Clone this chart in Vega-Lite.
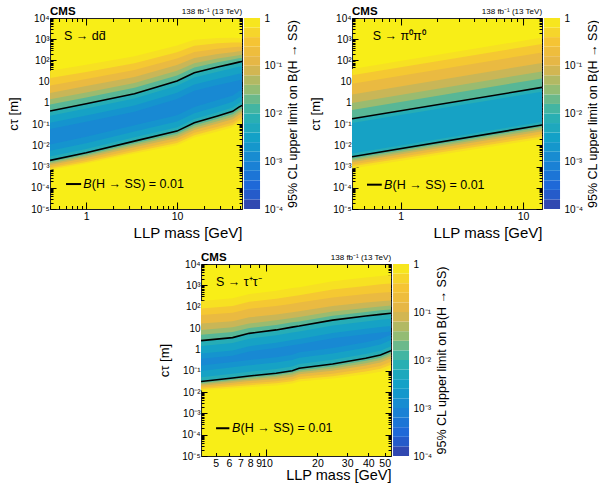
{
"$schema": "https://vega.github.io/schema/vega-lite/v6.json",
"padding": {"left": 7, "top": 5, "right": 0, "bottom": 0},
"background": "white",
"config": {
  "font": "Liberation Sans",
  "axis": {"labelFont": "Liberation Sans", "titleFont": "Liberation Sans", "titleFontWeight": "normal", "labelColor": "black", "titleColor": "black", "tickColor": "black", "domain": false, "grid": false, "tickWidth": 1, "zindex": 1}
},
"datasets": {
"dd": [
{"v":0.7,"m":0.4,"lo":0.000692,"hi":33.1},{"v":0.7,"m":1,"lo":0.00138,"hi":63.1},{"v":0.7,"m":3.4,"lo":0.00407,"hi":158},{"v":0.7,"m":10,"lo":0.0102,"hi":501},{"v":0.7,"m":15.5,"lo":0.0234,"hi":955},{"v":0.7,"m":28,"lo":0.0447,"hi":1148},{"v":0.7,"m":41,"lo":0.0708,"hi":1175},{"v":0.7,"m":48,"lo":0.11,"hi":1148},{"v":0.7,"m":52,"lo":0.129,"hi":1122},
{"v":0.35,"m":0.4,"lo":0.000813,"hi":14.8},{"v":0.35,"m":1,"lo":0.00166,"hi":28.8},{"v":0.35,"m":3.4,"lo":0.00501,"hi":74.1},{"v":0.35,"m":10,"lo":0.0129,"hi":245},{"v":0.35,"m":15.5,"lo":0.0302,"hi":490},{"v":0.35,"m":28,"lo":0.0589,"hi":646},{"v":0.35,"m":41,"lo":0.0912,"hi":692},{"v":0.35,"m":48,"lo":0.145,"hi":708},{"v":0.35,"m":52,"lo":0.17,"hi":708},
{"v":0.16,"m":0.4,"lo":0.000955,"hi":6.61},{"v":0.16,"m":1,"lo":0.002,"hi":13.2},{"v":0.16,"m":3.4,"lo":0.00617,"hi":35.5},{"v":0.16,"m":10,"lo":0.0166,"hi":123},{"v":0.16,"m":15.5,"lo":0.0389,"hi":251},{"v":0.16,"m":28,"lo":0.0759,"hi":355},{"v":0.16,"m":41,"lo":0.12,"hi":417},{"v":0.16,"m":48,"lo":0.191,"hi":437},{"v":0.16,"m":52,"lo":0.224,"hi":447},
{"v":0.07,"m":0.4,"lo":0.001175,"hi":2.95},{"v":0.07,"m":1,"lo":0.00251,"hi":6.17},{"v":0.07,"m":3.4,"lo":0.00813,"hi":16.6},{"v":0.07,"m":10,"lo":0.0224,"hi":60.3},{"v":0.07,"m":15.5,"lo":0.0525,"hi":132},{"v":0.07,"m":28,"lo":0.107,"hi":200},{"v":0.07,"m":41,"lo":0.17,"hi":245},{"v":0.07,"m":48,"lo":0.269,"hi":269},{"v":0.07,"m":52,"lo":0.324,"hi":275},
{"v":0.035,"m":0.4,"lo":0.00138,"hi":1.48},{"v":0.035,"m":1,"lo":0.00302,"hi":3.09},{"v":0.035,"m":3.4,"lo":0.01,"hi":8.71},{"v":0.035,"m":10,"lo":0.0282,"hi":32.4},{"v":0.035,"m":15.5,"lo":0.0676,"hi":74.1},{"v":0.035,"m":28,"lo":0.138,"hi":123},{"v":0.035,"m":41,"lo":0.224,"hi":158},{"v":0.035,"m":48,"lo":0.355,"hi":178},{"v":0.035,"m":52,"lo":0.417,"hi":186},
{"v":0.016,"m":0.4,"lo":0.00162,"hi":0.832},{"v":0.016,"m":1,"lo":0.00363,"hi":1.78},{"v":0.016,"m":3.4,"lo":0.0123,"hi":5.13},{"v":0.016,"m":10,"lo":0.0355,"hi":19.5},{"v":0.016,"m":15.5,"lo":0.0871,"hi":46.8},{"v":0.016,"m":28,"lo":0.178,"hi":81.3},{"v":0.016,"m":41,"lo":0.295,"hi":110},{"v":0.016,"m":48,"lo":0.457,"hi":126},{"v":0.016,"m":52,"lo":0.55,"hi":132},
{"v":0.007,"m":0.4,"lo":0.00195,"hi":0.417},{"v":0.007,"m":1,"lo":0.00447,"hi":0.912},{"v":0.007,"m":3.4,"lo":0.0158,"hi":2.69},{"v":0.007,"m":10,"lo":0.0468,"hi":10.7},{"v":0.007,"m":15.5,"lo":0.115,"hi":26.3},{"v":0.007,"m":28,"lo":0.24,"hi":49.0},{"v":0.007,"m":41,"lo":0.398,"hi":70.8},{"v":0.007,"m":48,"lo":0.631,"hi":83.2},{"v":0.007,"m":52,"lo":0.759,"hi":89.1},
{"v":0.0035,"m":0.4,"lo":0.00295,"hi":0.251},{"v":0.0035,"m":1,"lo":0.00676,"hi":0.55},{"v":0.0035,"m":3.4,"lo":0.024,"hi":1.62},{"v":0.0035,"m":10,"lo":0.0708,"hi":6.46},{"v":0.0035,"m":15.5,"lo":0.174,"hi":15.8},{"v":0.0035,"m":28,"lo":0.363,"hi":29.5},{"v":0.0035,"m":41,"lo":0.603,"hi":42.7},{"v":0.0035,"m":48,"lo":0.955,"hi":50.1},{"v":0.0035,"m":52,"lo":1.15,"hi":53.7},
{"v":0.0018,"m":0.4,"lo":0.0055,"hi":0.1175},{"v":0.0018,"m":1,"lo":0.0126,"hi":0.257},{"v":0.0018,"m":3.4,"lo":0.0447,"hi":0.759},{"v":0.0018,"m":10,"lo":0.132,"hi":3.02},{"v":0.0018,"m":15.5,"lo":0.324,"hi":7.41},{"v":0.0018,"m":28,"lo":0.676,"hi":13.8},{"v":0.0018,"m":41,"lo":1.12,"hi":20.0},{"v":0.0018,"m":48,"lo":1.78,"hi":23.4},{"v":0.0018,"m":52,"lo":2.14,"hi":25.1},
{"v":0.0011,"m":0.4,"lo":0.011,"hi":0.0589},{"v":0.0011,"m":1,"lo":0.0251,"hi":0.129},{"v":0.0011,"m":3.4,"lo":0.0891,"hi":0.38},{"v":0.0011,"m":10,"lo":0.263,"hi":1.51},{"v":0.0011,"m":15.5,"lo":0.646,"hi":3.72},{"v":0.0011,"m":28,"lo":1.35,"hi":6.92},{"v":0.0011,"m":41,"lo":2.24,"hi":10.0},{"v":0.0011,"m":48,"lo":3.55,"hi":11.7},{"v":0.0011,"m":52,"lo":4.27,"hi":12.6}
],
"pp": [
{"v":0.7,"m":0.4,"lo":0.000813,"hi":39.8},{"v":0.7,"m":14.3,"lo":0.0204,"hi":1202},
{"v":0.35,"m":0.4,"lo":0.00102,"hi":20.0},{"v":0.35,"m":14.3,"lo":0.0263,"hi":603},
{"v":0.16,"m":0.4,"lo":0.00126,"hi":7.94},{"v":0.16,"m":14.3,"lo":0.0339,"hi":240},
{"v":0.07,"m":0.4,"lo":0.00158,"hi":2.51},{"v":0.07,"m":14.3,"lo":0.0457,"hi":75.9},
{"v":0.035,"m":0.4,"lo":0.00195,"hi":1.0},{"v":0.035,"m":14.3,"lo":0.0575,"hi":30.2},
{"v":0.016,"m":0.4,"lo":0.00234,"hi":0.468},{"v":0.016,"m":14.3,"lo":0.0724,"hi":14.1},
{"v":0.007,"m":0.4,"lo":0.00288,"hi":0.178},{"v":0.007,"m":14.3,"lo":0.0912,"hi":5.37},
{"v":0.0035,"m":0.4,"lo":0.00407,"hi":0.112},{"v":0.0035,"m":14.3,"lo":0.129,"hi":3.39}
],
"tt": [
{"v":0.7,"m":4.1,"lo":0.01175,"hi":182},{"v":0.7,"m":6.3,"lo":0.0151,"hi":245},{"v":0.7,"m":7.9,"lo":0.017,"hi":389},{"v":0.7,"m":11.4,"lo":0.0204,"hi":550},{"v":0.7,"m":14.2,"lo":0.0251,"hi":741},{"v":0.7,"m":15.6,"lo":0.0309,"hi":813},{"v":0.7,"m":24.6,"lo":0.0427,"hi":1549},{"v":0.7,"m":38.6,"lo":0.0676,"hi":2344},{"v":0.7,"m":47.2,"lo":0.0891,"hi":2754},{"v":0.7,"m":54.5,"lo":0.138,"hi":3090},
{"v":0.35,"m":4.1,"lo":0.0138,"hi":81.3},{"v":0.35,"m":6.3,"lo":0.0182,"hi":107},{"v":0.35,"m":7.9,"lo":0.0209,"hi":170},{"v":0.35,"m":11.4,"lo":0.0257,"hi":234},{"v":0.35,"m":14.2,"lo":0.0316,"hi":309},{"v":0.35,"m":15.6,"lo":0.0398,"hi":347},{"v":0.35,"m":24.6,"lo":0.055,"hi":631},{"v":0.35,"m":38.6,"lo":0.0912,"hi":933},{"v":0.35,"m":47.2,"lo":0.123,"hi":1122},{"v":0.35,"m":54.5,"lo":0.191,"hi":1230},
{"v":0.16,"m":4.1,"lo":0.0162,"hi":40.7},{"v":0.16,"m":6.3,"lo":0.0219,"hi":52.5},{"v":0.16,"m":7.9,"lo":0.0257,"hi":79.4},{"v":0.16,"m":11.4,"lo":0.0316,"hi":107},{"v":0.16,"m":14.2,"lo":0.0398,"hi":138},{"v":0.16,"m":15.6,"lo":0.0513,"hi":155},{"v":0.16,"m":24.6,"lo":0.0724,"hi":269},{"v":0.16,"m":38.6,"lo":0.123,"hi":389},{"v":0.16,"m":47.2,"lo":0.166,"hi":447},{"v":0.16,"m":54.5,"lo":0.263,"hi":490},
{"v":0.07,"m":4.1,"lo":0.0195,"hi":16.2},{"v":0.07,"m":6.3,"lo":0.0269,"hi":20.9},{"v":0.07,"m":7.9,"lo":0.0324,"hi":31.6},{"v":0.07,"m":11.4,"lo":0.0417,"hi":42.7},{"v":0.07,"m":14.2,"lo":0.0525,"hi":55.0},{"v":0.07,"m":15.6,"lo":0.0676,"hi":61.7},{"v":0.07,"m":24.6,"lo":0.1,"hi":107},{"v":0.07,"m":38.6,"lo":0.174,"hi":155},{"v":0.07,"m":47.2,"lo":0.24,"hi":178},{"v":0.07,"m":54.5,"lo":0.38,"hi":195},
{"v":0.035,"m":4.1,"lo":0.0229,"hi":8.13},{"v":0.035,"m":6.3,"lo":0.0324,"hi":10.7},{"v":0.035,"m":7.9,"lo":0.0389,"hi":16.2},{"v":0.035,"m":11.4,"lo":0.0513,"hi":22.9},{"v":0.035,"m":14.2,"lo":0.0661,"hi":29.5},{"v":0.035,"m":15.6,"lo":0.0832,"hi":33.1},{"v":0.035,"m":24.6,"lo":0.126,"hi":58.9},{"v":0.035,"m":38.6,"lo":0.224,"hi":87.1},{"v":0.035,"m":47.2,"lo":0.316,"hi":102},{"v":0.035,"m":54.5,"lo":0.501,"hi":112},
{"v":0.016,"m":4.1,"lo":0.0263,"hi":4.79},{"v":0.016,"m":6.3,"lo":0.038,"hi":6.46},{"v":0.016,"m":7.9,"lo":0.0468,"hi":10.0},{"v":0.016,"m":11.4,"lo":0.0617,"hi":13.8},{"v":0.016,"m":14.2,"lo":0.0813,"hi":18.6},{"v":0.016,"m":15.6,"lo":0.102,"hi":20.4},{"v":0.016,"m":24.6,"lo":0.158,"hi":38.0},{"v":0.016,"m":38.6,"lo":0.295,"hi":56.2},{"v":0.016,"m":47.2,"lo":0.407,"hi":67.6},{"v":0.016,"m":54.5,"lo":0.661,"hi":74.1},
{"v":0.007,"m":4.1,"lo":0.0309,"hi":2.57},{"v":0.007,"m":6.3,"lo":0.0457,"hi":3.55},{"v":0.007,"m":7.9,"lo":0.0562,"hi":5.62},{"v":0.007,"m":11.4,"lo":0.0759,"hi":8.13},{"v":0.007,"m":14.2,"lo":0.1,"hi":11.0},{"v":0.007,"m":15.6,"lo":0.129,"hi":12.3},{"v":0.007,"m":24.6,"lo":0.204,"hi":23.4},{"v":0.007,"m":38.6,"lo":0.38,"hi":36.3},{"v":0.007,"m":47.2,"lo":0.537,"hi":43.7},{"v":0.007,"m":54.5,"lo":0.871,"hi":49.0},
{"v":0.0035,"m":4.1,"lo":0.049,"hi":1.445},{"v":0.0035,"m":6.3,"lo":0.0724,"hi":2.0},{"v":0.0035,"m":7.9,"lo":0.0891,"hi":3.16},{"v":0.0035,"m":11.4,"lo":0.12,"hi":4.57},{"v":0.0035,"m":14.2,"lo":0.158,"hi":6.17},{"v":0.0035,"m":15.6,"lo":0.204,"hi":6.92},{"v":0.0035,"m":24.6,"lo":0.324,"hi":13.2},{"v":0.0035,"m":38.6,"lo":0.603,"hi":20.4},{"v":0.0035,"m":47.2,"lo":0.851,"hi":24.5},{"v":0.0035,"m":54.5,"lo":1.38,"hi":27.5},
{"v":0.0018,"m":4.1,"lo":0.0977,"hi":0.646},{"v":0.0018,"m":6.3,"lo":0.145,"hi":0.891},{"v":0.0018,"m":7.9,"lo":0.178,"hi":1.41},{"v":0.0018,"m":11.4,"lo":0.24,"hi":2.04},{"v":0.0018,"m":14.2,"lo":0.316,"hi":2.75},{"v":0.0018,"m":15.6,"lo":0.407,"hi":3.09},{"v":0.0018,"m":24.6,"lo":0.646,"hi":5.89},{"v":0.0018,"m":38.6,"lo":1.2,"hi":9.12},{"v":0.0018,"m":47.2,"lo":1.7,"hi":11.0},{"v":0.0018,"m":54.5,"lo":2.75,"hi":12.3},
{"v":0.0011,"m":4.1,"lo":0.174,"hi":0.363},{"v":0.0011,"m":6.3,"lo":0.257,"hi":0.501},{"v":0.0011,"m":7.9,"lo":0.316,"hi":0.794},{"v":0.0011,"m":11.4,"lo":0.427,"hi":1.15},{"v":0.0011,"m":14.2,"lo":0.562,"hi":1.55},{"v":0.0011,"m":15.6,"lo":0.724,"hi":1.74},{"v":0.0011,"m":24.6,"lo":1.15,"hi":3.31},{"v":0.0011,"m":38.6,"lo":2.14,"hi":5.13},{"v":0.0011,"m":47.2,"lo":3.02,"hi":6.17},{"v":0.0011,"m":54.5,"lo":4.9,"hi":6.92}
],
"cb": [
{"lo":0.0001,"hi":0.0001585,"v":0.0001259},{"lo":0.0001585,"hi":0.0002512,"v":0.0001995},{"lo":0.0002512,"hi":0.0003981,"v":0.0003162},{"lo":0.0003981,"hi":0.000631,"v":0.0005012},{"lo":0.000631,"hi":0.001,"v":0.0007943},
{"lo":0.001,"hi":0.001585,"v":0.001259},{"lo":0.001585,"hi":0.002512,"v":0.001995},{"lo":0.002512,"hi":0.003981,"v":0.003162},{"lo":0.003981,"hi":0.00631,"v":0.005012},{"lo":0.00631,"hi":0.01,"v":0.007943},
{"lo":0.01,"hi":0.01585,"v":0.01259},{"lo":0.01585,"hi":0.02512,"v":0.01995},{"lo":0.02512,"hi":0.03981,"v":0.03162},{"lo":0.03981,"hi":0.0631,"v":0.05012},{"lo":0.0631,"hi":0.1,"v":0.07943},
{"lo":0.1,"hi":0.1585,"v":0.1259},{"lo":0.1585,"hi":0.2512,"v":0.1995},{"lo":0.2512,"hi":0.3981,"v":0.3162},{"lo":0.3981,"hi":0.631,"v":0.5012},{"lo":0.631,"hi":1,"v":0.7943}
]
},
"vconcat": [
{"hconcat": [
 {"hconcat": [
  {"width": 192, "height": 191,
   "view": {"fill": "#f8ee17", "stroke": "#222222", "strokeWidth": 1},
   "data": {"name": "dd"},
   "layer": [
    {"mark": {"type": "area", "clip": true},
     "encoding": {
      "x": {"field": "m", "type": "quantitative", "scale": {"type": "log", "domain": [0.4, 52], "nice": false},
            "axis": {"orient": "bottom", "title": "LLP mass [GeV]", "values": [0.4,0.5,0.6,0.7,0.8,0.9,1,2,3,4,5,6,7,8,9,10,20,30,40,50], "labelOverlap": false,
                     "labelExpr": "abs(log(datum.value)/LN10-round(log(datum.value)/LN10))<0.001 ? format(datum.value,'d') : ''",
                     "tickSize": {"condition": {"test": "abs(log(datum.value)/LN10-round(log(datum.value)/LN10))<0.001", "value": -7}, "value": -3.5},
                     "labelPadding": 9, "labelFontSize": 10.5, "titleFontSize": 15, "titlePadding": 0, "titleAnchor": "end"}},
      "y": {"field": "lo", "type": "quantitative", "stack": null, "scale": {"type": "log", "domain": [0.00001, 10000], "nice": false},
            "axis": {"orient": "left", "title": "cτ [m]", "tickCount": 100, "labelOverlap": false,
                     "labelExpr": "abs(log(datum.value)/LN10-round(log(datum.value)/LN10))<0.001 ? ['10⁻⁵','10⁻⁴','10⁻³','10⁻²','10⁻¹','1','10','10²','10³','10⁴'][round(log(datum.value)/LN10)+5] : ''",
                     "tickSize": {"condition": {"test": "abs(log(datum.value)/LN10-round(log(datum.value)/LN10))<0.001", "value": -6}, "value": -3},
                     "labelPadding": 7, "labelFontSize": 10, "titleFontSize": 13, "titlePadding": 10}},
      "y2": {"field": "hi"},
      "color": {"field": "v", "type": "quantitative", "legend": null,
                "scale": {"type": "log", "interpolate": "rgb", "domain": [0.0001,0.00015,0.0003,0.001,0.003,0.01,0.03,0.1,0.3,0.6,1], "range": ["#3b3a9e","#2a52c0","#1f68d8","#1987d4","#12a0c8","#2fb3ae","#8fbc76","#e2b44a","#f5c235","#f6dc27","#f8ee17"]}}
     }},
    {"transform": [{"filter": "datum.v == 0.007"}],
     "mark": {"type": "line", "color": "black", "strokeWidth": 1.6, "clip": true},
     "encoding": {
      "x": {"field": "m", "type": "quantitative", "axis": {"orient": "top", "labels": false, "title": null, "values": [0.4,0.5,0.6,0.7,0.8,0.9,1,2,3,4,5,6,7,8,9,10,20,30,40,50], "tickSize": {"condition": {"test": "abs(log(datum.value)/LN10-round(log(datum.value)/LN10))<0.001", "value": -7}, "value": -3.5}}},
      "y": {"field": "hi", "type": "quantitative", "axis": {"orient": "right", "labels": false, "title": null, "tickCount": 100, "tickSize": {"condition": {"test": "abs(log(datum.value)/LN10-round(log(datum.value)/LN10))<0.001", "value": -6}, "value": -3}}}
     }},
    {"transform": [{"filter": "datum.v == 0.007"}],
     "mark": {"type": "line", "color": "black", "strokeWidth": 1.6, "clip": true},
     "encoding": {
      "x": {"field": "m", "type": "quantitative", "axis": null},
      "y": {"field": "lo", "type": "quantitative", "axis": null}
     }},
    {"data": {"values": [{"m": 0.57, "c": 1413, "t": "S → dd̄"}]},
     "mark": {"type": "text", "align": "left", "baseline": "middle", "fontSize": 12.5},
     "encoding": {"x": {"field": "m", "type": "quantitative", "axis": null}, "y": {"field": "c", "type": "quantitative", "axis": null}, "text": {"field": "t"}}},
    {"data": {"values": [{"m": 0.4, "c": 10000, "t": "CMS"}]},
     "mark": {"type": "text", "align": "left", "baseline": "bottom", "dy": -1, "fontSize": 11.5, "fontWeight": "bold"},
     "encoding": {"x": {"field": "m", "type": "quantitative", "axis": null}, "y": {"field": "c", "type": "quantitative", "axis": null}, "text": {"field": "t"}}},
    {"data": {"values": [{"m": 52, "c": 10000, "t": "138 fb⁻¹ (13 TeV)"}]},
     "mark": {"type": "text", "align": "right", "baseline": "bottom", "dy": -2, "fontSize": 8},
     "encoding": {"x": {"field": "m", "type": "quantitative", "axis": null}, "y": {"field": "c", "type": "quantitative", "axis": null}, "text": {"field": "t"}}},
    {"data": {"values": [{"m": 0.6, "m2": 0.88, "c": 0.00015}]},
     "mark": {"type": "rule", "color": "black", "strokeWidth": 2},
     "encoding": {"x": {"field": "m", "type": "quantitative", "axis": null}, "x2": {"field": "m2"}, "y": {"field": "c", "type": "quantitative", "axis": null}}},
    {"data": {"values": [{"m": 0.93, "c": 0.00015, "t": "B"}]},
     "mark": {"type": "text", "align": "left", "baseline": "middle", "fontSize": 12.5, "fontStyle": "italic"},
     "encoding": {"x": {"field": "m", "type": "quantitative", "axis": null}, "y": {"field": "c", "type": "quantitative", "axis": null}, "text": {"field": "t"}}},
    {"data": {"values": [{"m": 0.93, "c": 0.00015, "t": "(H → SS) = 0.01"}]},
     "mark": {"type": "text", "align": "left", "baseline": "middle", "fontSize": 12.5, "dx": 8.5},
     "encoding": {"x": {"field": "m", "type": "quantitative", "axis": null}, "y": {"field": "c", "type": "quantitative", "axis": null}, "text": {"field": "t"}}}
   ],
   "resolve": {"axis": {"x": "independent", "y": "independent"}}
  },
  {"width": 16, "height": 191, "view": {"stroke": null},
   "data": {"name": "cb"},
   "mark": {"type": "rect"},
   "encoding": {
    "y": {"field": "lo", "type": "quantitative", "scale": {"type": "log", "domain": [0.0001, 1], "nice": false},
          "axis": {"orient": "right", "values": [0.0001, 0.001, 0.01, 0.1, 1], "labelExpr": "['10⁻⁴','10⁻³','10⁻²','10⁻¹','1'][round(log(datum.value)/LN10)+4]", "ticks": false, "labelPadding": 4, "labelFontSize": 10, "labelOverlap": false,
                   "title": "95% CL upper limit on B(H → SS)", "titleAngle": 270, "titleBaseline": "top", "titleFontSize": 12.5, "titlePadding": 4}},
    "y2": {"field": "hi"},
    "color": {"field": "v", "type": "quantitative", "legend": null,
              "scale": {"type": "log", "interpolate": "rgb", "domain": [0.0001,0.00015,0.0003,0.001,0.003,0.01,0.03,0.1,0.3,0.6,1], "range": ["#3b3a9e","#2a52c0","#1f68d8","#1987d4","#12a0c8","#2fb3ae","#8fbc76","#e2b44a","#f5c235","#f6dc27","#f8ee17"]}}
   }}
 ], "spacing": 1},
 {"hconcat": [
  {"width": 190, "height": 191,
   "view": {"fill": "#f8ee17", "stroke": "#222222", "strokeWidth": 1},
   "data": {"name": "pp"},
   "layer": [
    {"mark": {"type": "area", "clip": true},
     "encoding": {
      "x": {"field": "m", "type": "quantitative", "scale": {"type": "log", "domain": [0.4, 14.3], "nice": false},
            "axis": {"orient": "bottom", "title": "LLP mass [GeV]", "values": [0.4,0.5,0.6,0.7,0.8,0.9,1,2,3,4,5,6,7,8,9,10], "labelOverlap": false,
                     "labelExpr": "abs(log(datum.value)/LN10-round(log(datum.value)/LN10))<0.001 ? format(datum.value,'d') : ''",
                     "tickSize": {"condition": {"test": "abs(log(datum.value)/LN10-round(log(datum.value)/LN10))<0.001", "value": -7}, "value": -3.5},
                     "labelPadding": 9, "labelFontSize": 10.5, "titleFontSize": 15, "titlePadding": 0, "titleAnchor": "end"}},
      "y": {"field": "lo", "type": "quantitative", "stack": null, "scale": {"type": "log", "domain": [0.00001, 10000], "nice": false},
            "axis": {"orient": "left", "title": "cτ [m]", "tickCount": 100, "labelOverlap": false,
                     "labelExpr": "abs(log(datum.value)/LN10-round(log(datum.value)/LN10))<0.001 ? ['10⁻⁵','10⁻⁴','10⁻³','10⁻²','10⁻¹','1','10','10²','10³','10⁴'][round(log(datum.value)/LN10)+5] : ''",
                     "tickSize": {"condition": {"test": "abs(log(datum.value)/LN10-round(log(datum.value)/LN10))<0.001", "value": -6}, "value": -3},
                     "labelPadding": 7, "labelFontSize": 10, "titleFontSize": 13, "titlePadding": 10}},
      "y2": {"field": "hi"},
      "color": {"field": "v", "type": "quantitative", "legend": null,
                "scale": {"type": "log", "interpolate": "rgb", "domain": [0.0001,0.00015,0.0003,0.001,0.003,0.01,0.03,0.1,0.3,0.6,1], "range": ["#3b3a9e","#2a52c0","#1f68d8","#1987d4","#12a0c8","#2fb3ae","#8fbc76","#e2b44a","#f5c235","#f6dc27","#f8ee17"]}}
     }},
    {"transform": [{"filter": "datum.v == 0.007"}],
     "mark": {"type": "line", "color": "black", "strokeWidth": 1.6, "clip": true},
     "encoding": {
      "x": {"field": "m", "type": "quantitative", "axis": {"orient": "top", "labels": false, "title": null, "values": [0.4,0.5,0.6,0.7,0.8,0.9,1,2,3,4,5,6,7,8,9,10], "tickSize": {"condition": {"test": "abs(log(datum.value)/LN10-round(log(datum.value)/LN10))<0.001", "value": -7}, "value": -3.5}}},
      "y": {"field": "hi", "type": "quantitative", "axis": {"orient": "right", "labels": false, "title": null, "tickCount": 100, "tickSize": {"condition": {"test": "abs(log(datum.value)/LN10-round(log(datum.value)/LN10))<0.001", "value": -6}, "value": -3}}}
     }},
    {"transform": [{"filter": "datum.v == 0.007"}],
     "mark": {"type": "line", "color": "black", "strokeWidth": 1.6, "clip": true},
     "encoding": {
      "x": {"field": "m", "type": "quantitative", "axis": null},
      "y": {"field": "lo", "type": "quantitative", "axis": null}
     }},
    {"data": {"values": [{"m": 0.59, "c": 1413, "t": "S → π⁰π⁰"}]},
     "mark": {"type": "text", "align": "left", "baseline": "middle", "fontSize": 12.5},
     "encoding": {"x": {"field": "m", "type": "quantitative", "axis": null}, "y": {"field": "c", "type": "quantitative", "axis": null}, "text": {"field": "t"}}},
    {"data": {"values": [{"m": 0.4, "c": 10000, "t": "CMS"}]},
     "mark": {"type": "text", "align": "left", "baseline": "bottom", "dy": -1, "fontSize": 11.5, "fontWeight": "bold"},
     "encoding": {"x": {"field": "m", "type": "quantitative", "axis": null}, "y": {"field": "c", "type": "quantitative", "axis": null}, "text": {"field": "t"}}},
    {"data": {"values": [{"m": 14.3, "c": 10000, "t": "138 fb⁻¹ (13 TeV)"}]},
     "mark": {"type": "text", "align": "right", "baseline": "bottom", "dy": -2, "fontSize": 8},
     "encoding": {"x": {"field": "m", "type": "quantitative", "axis": null}, "y": {"field": "c", "type": "quantitative", "axis": null}, "text": {"field": "t"}}},
    {"data": {"values": [{"m": 0.53, "m2": 0.70, "c": 0.00014}]},
     "mark": {"type": "rule", "color": "black", "strokeWidth": 2},
     "encoding": {"x": {"field": "m", "type": "quantitative", "axis": null}, "x2": {"field": "m2"}, "y": {"field": "c", "type": "quantitative", "axis": null}}},
    {"data": {"values": [{"m": 0.73, "c": 0.00014, "t": "B"}]},
     "mark": {"type": "text", "align": "left", "baseline": "middle", "fontSize": 12.5, "fontStyle": "italic"},
     "encoding": {"x": {"field": "m", "type": "quantitative", "axis": null}, "y": {"field": "c", "type": "quantitative", "axis": null}, "text": {"field": "t"}}},
    {"data": {"values": [{"m": 0.73, "c": 0.00014, "t": "(H → SS) = 0.01"}]},
     "mark": {"type": "text", "align": "left", "baseline": "middle", "fontSize": 12.5, "dx": 8.5},
     "encoding": {"x": {"field": "m", "type": "quantitative", "axis": null}, "y": {"field": "c", "type": "quantitative", "axis": null}, "text": {"field": "t"}}}
   ],
   "resolve": {"axis": {"x": "independent", "y": "independent"}}
  },
  {"width": 16, "height": 191, "view": {"stroke": null},
   "data": {"name": "cb"},
   "mark": {"type": "rect"},
   "encoding": {
    "y": {"field": "lo", "type": "quantitative", "scale": {"type": "log", "domain": [0.0001, 1], "nice": false},
          "axis": {"orient": "right", "values": [0.0001, 0.001, 0.01, 0.1, 1], "labelExpr": "['10⁻⁴','10⁻³','10⁻²','10⁻¹','1'][round(log(datum.value)/LN10)+4]", "ticks": false, "labelPadding": 4, "labelFontSize": 10, "labelOverlap": false,
                   "title": "95% CL upper limit on B(H → SS)", "titleAngle": 270, "titleBaseline": "top", "titleFontSize": 12.5, "titlePadding": 4}},
    "y2": {"field": "hi"},
    "color": {"field": "v", "type": "quantitative", "legend": null,
              "scale": {"type": "log", "interpolate": "rgb", "domain": [0.0001,0.00015,0.0003,0.001,0.003,0.01,0.03,0.1,0.3,0.6,1], "range": ["#3b3a9e","#2a52c0","#1f68d8","#1987d4","#12a0c8","#2fb3ae","#8fbc76","#e2b44a","#f5c235","#f6dc27","#f8ee17"]}}
   }}
 ], "spacing": 1}
], "spacing": 10},
{"hconcat": [
  {"width": 190, "height": 192,
   "view": {"fill": "#f8ee17", "stroke": "#222222", "strokeWidth": 1},
   "data": {"name": "tt"},
   "layer": [
    {"mark": {"type": "area", "clip": true},
     "encoding": {
      "x": {"field": "m", "type": "quantitative", "scale": {"type": "log", "domain": [4.1, 54.5], "nice": false},
            "axis": {"orient": "bottom", "title": "LLP mass [GeV]", "values": [5,6,7,8,9,10,20,30,40,50], "labelOverlap": false,
                     "labelExpr": "format(datum.value,'d')",
                     "tickSize": {"condition": {"test": "abs(log(datum.value)/LN10-round(log(datum.value)/LN10))<0.001", "value": -7}, "value": -3.5},
                     "labelPadding": {"condition": {"test": "abs(log(datum.value)/LN10-round(log(datum.value)/LN10))<0.001", "value": 9}, "value": 5.5},
                     "labelFontSize": 10.5, "titleFontSize": 14.5, "titlePadding": 0, "titleAnchor": "end"}},
      "y": {"field": "lo", "type": "quantitative", "stack": null, "scale": {"type": "log", "domain": [0.00001, 10000], "nice": false},
            "axis": {"orient": "left", "title": "cτ [m]", "tickCount": 100, "labelOverlap": false,
                     "labelExpr": "abs(log(datum.value)/LN10-round(log(datum.value)/LN10))<0.001 ? ['10⁻⁵','10⁻⁴','10⁻³','10⁻²','10⁻¹','1','10','10²','10³','10⁴'][round(log(datum.value)/LN10)+5] : ''",
                     "tickSize": {"condition": {"test": "abs(log(datum.value)/LN10-round(log(datum.value)/LN10))<0.001", "value": -6}, "value": -3},
                     "labelPadding": 7, "labelFontSize": 10, "titleFontSize": 13, "titlePadding": 10}},
      "y2": {"field": "hi"},
      "color": {"field": "v", "type": "quantitative", "legend": null,
                "scale": {"type": "log", "interpolate": "rgb", "domain": [0.0001,0.00015,0.0003,0.001,0.003,0.01,0.03,0.1,0.3,0.6,1], "range": ["#3b3a9e","#2a52c0","#1f68d8","#1987d4","#12a0c8","#2fb3ae","#8fbc76","#e2b44a","#f5c235","#f6dc27","#f8ee17"]}}
     }},
    {"transform": [{"filter": "datum.v == 0.007"}],
     "mark": {"type": "line", "color": "black", "strokeWidth": 1.6, "clip": true},
     "encoding": {
      "x": {"field": "m", "type": "quantitative", "axis": {"orient": "top", "labels": false, "title": null, "values": [5,6,7,8,9,10,20,30,40,50], "tickSize": {"condition": {"test": "abs(log(datum.value)/LN10-round(log(datum.value)/LN10))<0.001", "value": -7}, "value": -3.5}}},
      "y": {"field": "hi", "type": "quantitative", "axis": {"orient": "right", "labels": false, "title": null, "tickCount": 100, "tickSize": {"condition": {"test": "abs(log(datum.value)/LN10-round(log(datum.value)/LN10))<0.001", "value": -6}, "value": -3}}}
     }},
    {"transform": [{"filter": "datum.v == 0.007"}],
     "mark": {"type": "line", "color": "black", "strokeWidth": 1.6, "clip": true},
     "encoding": {
      "x": {"field": "m", "type": "quantitative", "axis": null},
      "y": {"field": "lo", "type": "quantitative", "axis": null}
     }},
    {"data": {"values": [{"m": 5.03, "c": 1479, "t": "S → τ⁺τ⁻"}]},
     "mark": {"type": "text", "align": "left", "baseline": "middle", "fontSize": 12.5},
     "encoding": {"x": {"field": "m", "type": "quantitative", "axis": null}, "y": {"field": "c", "type": "quantitative", "axis": null}, "text": {"field": "t"}}},
    {"data": {"values": [{"m": 4.1, "c": 10000, "t": "CMS"}]},
     "mark": {"type": "text", "align": "left", "baseline": "bottom", "dy": -1, "fontSize": 11.5, "fontWeight": "bold"},
     "encoding": {"x": {"field": "m", "type": "quantitative", "axis": null}, "y": {"field": "c", "type": "quantitative", "axis": null}, "text": {"field": "t"}}},
    {"data": {"values": [{"m": 54.5, "c": 10000, "t": "138 fb⁻¹ (13 TeV)"}]},
     "mark": {"type": "text", "align": "right", "baseline": "bottom", "dy": -2, "fontSize": 8},
     "encoding": {"x": {"field": "m", "type": "quantitative", "axis": null}, "y": {"field": "c", "type": "quantitative", "axis": null}, "text": {"field": "t"}}},
    {"data": {"values": [{"m": 5.03, "m2": 6.03, "c": 0.0002}]},
     "mark": {"type": "rule", "color": "black", "strokeWidth": 2},
     "encoding": {"x": {"field": "m", "type": "quantitative", "axis": null}, "x2": {"field": "m2"}, "y": {"field": "c", "type": "quantitative", "axis": null}}},
    {"data": {"values": [{"m": 6.25, "c": 0.0002, "t": "B"}]},
     "mark": {"type": "text", "align": "left", "baseline": "middle", "fontSize": 12.5, "fontStyle": "italic"},
     "encoding": {"x": {"field": "m", "type": "quantitative", "axis": null}, "y": {"field": "c", "type": "quantitative", "axis": null}, "text": {"field": "t"}}},
    {"data": {"values": [{"m": 6.25, "c": 0.0002, "t": "(H → SS) = 0.01"}]},
     "mark": {"type": "text", "align": "left", "baseline": "middle", "fontSize": 12.5, "dx": 8.5},
     "encoding": {"x": {"field": "m", "type": "quantitative", "axis": null}, "y": {"field": "c", "type": "quantitative", "axis": null}, "text": {"field": "t"}}}
   ],
   "resolve": {"axis": {"x": "independent", "y": "independent"}}
  },
  {"width": 16, "height": 192, "view": {"stroke": null},
   "data": {"name": "cb"},
   "mark": {"type": "rect"},
   "encoding": {
    "y": {"field": "lo", "type": "quantitative", "scale": {"type": "log", "domain": [0.0001, 1], "nice": false},
          "axis": {"orient": "right", "values": [0.0001, 0.001, 0.01, 0.1, 1], "labelExpr": "['10⁻⁴','10⁻³','10⁻²','10⁻¹','1'][round(log(datum.value)/LN10)+4]", "ticks": false, "labelPadding": 4, "labelFontSize": 10, "labelOverlap": false,
                   "title": "95% CL upper limit on B(H → SS)", "titleAngle": 270, "titleBaseline": "top", "titleFontSize": 12.5, "titlePadding": 4}},
    "y2": {"field": "hi"},
    "color": {"field": "v", "type": "quantitative", "legend": null,
              "scale": {"type": "log", "interpolate": "rgb", "domain": [0.0001,0.00015,0.0003,0.001,0.003,0.01,0.03,0.1,0.3,0.6,1], "range": ["#3b3a9e","#2a52c0","#1f68d8","#1987d4","#12a0c8","#2fb3ae","#8fbc76","#e2b44a","#f5c235","#f6dc27","#f8ee17"]}}
   }}
], "spacing": 1}
],
"spacing": 10,
"center": true
}
